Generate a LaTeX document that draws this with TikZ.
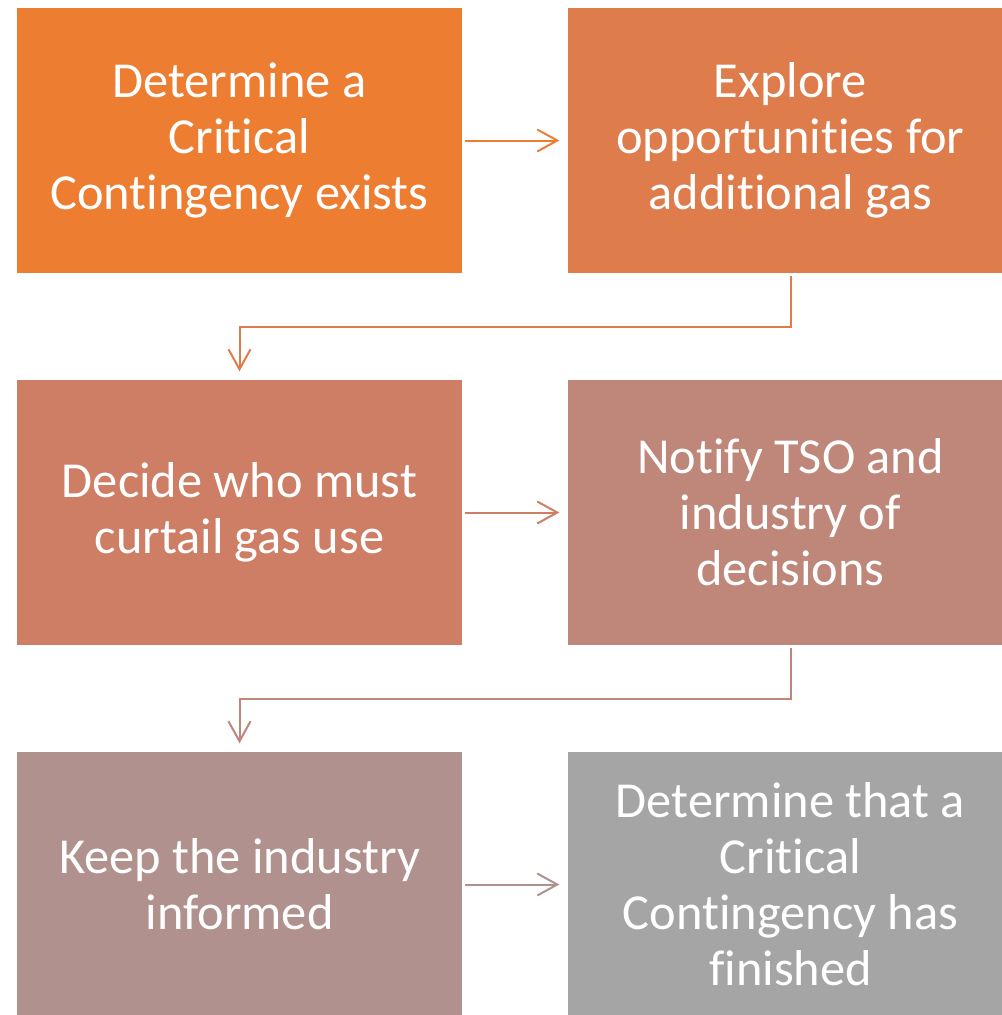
\documentclass[tikz,border=0pt]{standalone}
\usepackage{fontspec}
\setmainfont{Carlito}[Ligatures=NoCommon]
\usetikzlibrary{arrows.meta}
\definecolor{cA}{HTML}{ED7D31}
\definecolor{cB}{HTML}{DF7C4C}
\definecolor{cC}{HTML}{CD7E65}
\definecolor{cD}{HTML}{BE877A}
\definecolor{cE}{HTML}{B1918E}
\definecolor{cF}{HTML}{A5A5A5}
\tikzset{
  box/.style={fill=#1, draw=none, inner sep=0pt, outer sep=0pt,
    minimum width=333.75pt, minimum height=198.75pt,
    text=white, align=center, font=\fontsize{37.8}{42}\selectfont},
  arr/.style={draw=#1, line width=1.5pt,
    -{Straight Barb[length=15pt,width=16.5pt,line width=1.5pt]},
    shorten <=2.5pt, shorten >=6.5pt}
}
\begin{document}
\begin{tikzpicture}[x=0.75pt,y=-0.75pt]
\useasboundingbox (0,0) rectangle (1002,1015);
\clip (0,0) rectangle (1002,1015);
\node[box=cA] (b1) at (239.5,140.5) {Determine a\\Critical\\Contingency exists};
\node[box=cB] (b2) at (790.5,140.5) {Explore\\opportunities for\\additional gas};
\node[box=cC] (b3) at (239.5,512.5) {Decide who must\\curtail gas use};
\node[box=cD] (b4) at (790.5,512.5) {Notify TSO and\\industry of\\decisions};
\node[box=cE] (b5) at (239.5,884.5) {Keep the industry\\informed};
\node[box=cF] (b6) at (790.5,884.5) {Determine that a\\Critical\\Contingency has\\finished};
\draw[arr=cA] (b1.east) -- (b2.west);
\draw[arr=cB] (b2.south) -- ++(0,54) -| (b3.north);
\draw[arr=cC] (b3.east) -- (b4.west);
\draw[arr=cD] (b4.south) -- ++(0,54) -| (b5.north);
\draw[arr=cE] (b5.east) -- (b6.west);
\end{tikzpicture}
\end{document}
